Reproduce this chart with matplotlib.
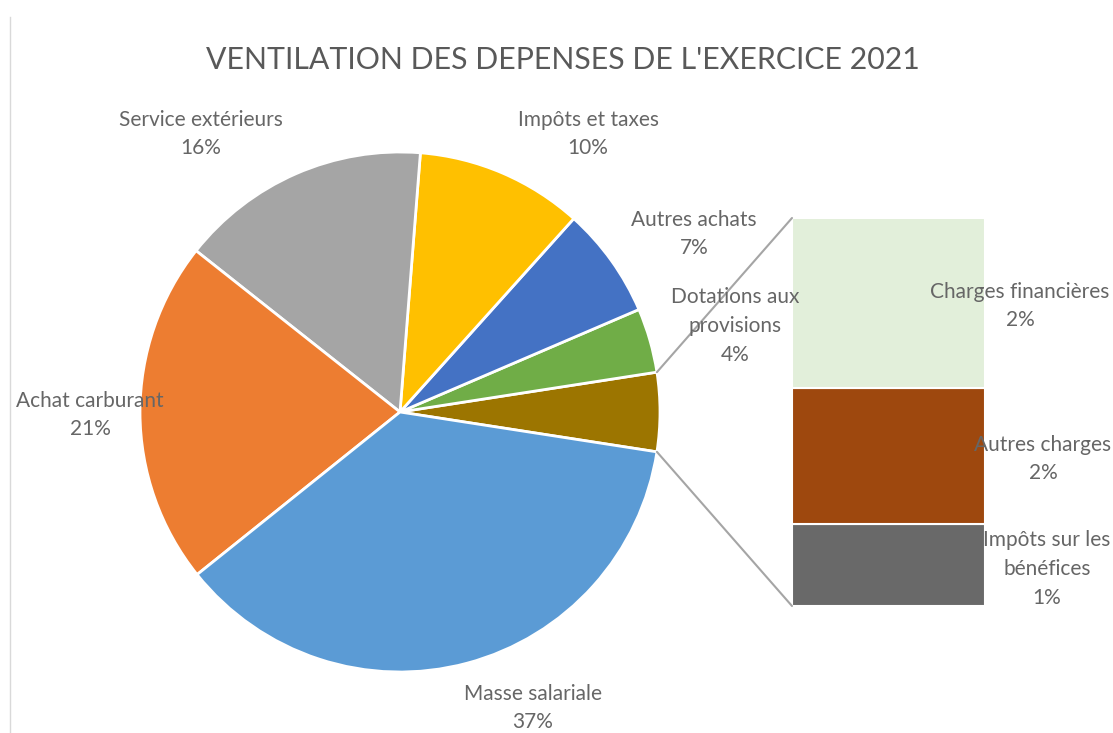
import matplotlib
matplotlib.use("Agg")
import matplotlib.pyplot as plt
from matplotlib.patches import ConnectionPatch
from matplotlib.lines import Line2D
import numpy as np

plt.rcParams['font.family'] = ['Lato', 'DejaVu Sans']

# ---- data ----
title = "VENTILATION DES DEPENSES DE L'EXERCICE 2021"
pie_labels = ["Dotations aux\nprovisions", "Autres achats", "Impôts et taxes",
              "Service extérieurs", "Achat carburant", "Masse salariale"]
pie_values = [4.0, 6.9, 10.4, 15.6, 21.4, 36.8]
pie_colors = ["#70AD47", "#4472C4", "#FFC000", "#A5A5A5", "#ED7D31", "#5B9BD5"]

bar_labels = ["Impôts sur les\nbénéfices", "Autres charges", "Charges financières"]
bar_values = [1.03, 1.72, 2.15]
bar_colors = ["#696969", "#9E480E", "#E2EFDA"]
other_color = "#9C7500"

# ---- layout ----
W, H = 1113, 733
fig = plt.figure(figsize=(W / 100, H / 100), dpi=100)
fig.patch.set_facecolor("white")

cx, cy, R = 400, 412, 260
ax_pie = fig.add_axes([(cx - R) / W, (H - cy - R) / H, 2 * R / W, 2 * R / H])
other = sum(bar_values)
vals = [other] + pie_values
cols = [other_color] + pie_colors
start = -other * 3.6 / 2
wedges, _ = ax_pie.pie(vals, colors=cols, startangle=start, counterclock=True,
                       radius=1, wedgeprops=dict(edgecolor="white", linewidth=2))
ax_pie.set_xlim(-1, 1)
ax_pie.set_ylim(-1, 1)
ax_pie.set_aspect("equal")
ax_pie.axis("off")

bx0, bx1, by0, by1 = 792, 985, 218, 606
ax_bar = fig.add_axes([bx0 / W, (H - by1) / H, (bx1 - bx0) / W, (by1 - by0) / H])
bottom = 0
for v, c in zip(bar_values, bar_colors):
    ax_bar.bar([0], [v], bottom=bottom, width=1, color=c, edgecolor="white", linewidth=1.5)
    bottom += v
ax_bar.set_xlim(-0.5, 0.5)
ax_bar.set_ylim(0, other)
ax_bar.axis("off")

# connector lines
half = np.deg2rad(other * 3.6 / 2)
for sgn, yb in [(1, other), (-1, 0)]:
    con = ConnectionPatch(xyA=(np.cos(half), sgn * np.sin(half)), coordsA=ax_pie.transData,
                          xyB=(-0.5, yb), coordsB=ax_bar.transData,
                          color="#A5A5A5", linewidth=1.5)
    fig.add_artist(con)

# labels (pixel positions of text centres)
lab_color = "#666666"
fs = 15
ls = 1.54
pie_label_pos = [(735, 326), (694, 234), (588, 134), (201, 134), (90, 415), (533, 708)]
for lab, v, (px, py) in zip(pie_labels, pie_values, pie_label_pos):
    fig.text(px / W, 1 - py / H, f"{lab}\n{round(v):.0f}%", ha="center", va="center",
             fontsize=fs, color=lab_color, linespacing=ls)

bar_label_pos = [(1047, 569), (1043, 459), (1020, 306)]
for lab, v, (px, py) in zip(bar_labels, bar_values, bar_label_pos):
    fig.text(px / W, 1 - py / H, f"{lab}\n{round(v):.0f}%", ha="center", va="center",
             fontsize=fs, color=lab_color, linespacing=ls)

fig.text(563 / W, 1 - 60 / H, title, ha="center", va="center", fontsize=21.8, color="#595959")

fig.add_artist(Line2D([10 / W, 10 / W], [0, 1 - 17 / H], color="#D9D9D9", linewidth=1))

fig.savefig("out.png", dpi=100, facecolor="white")
